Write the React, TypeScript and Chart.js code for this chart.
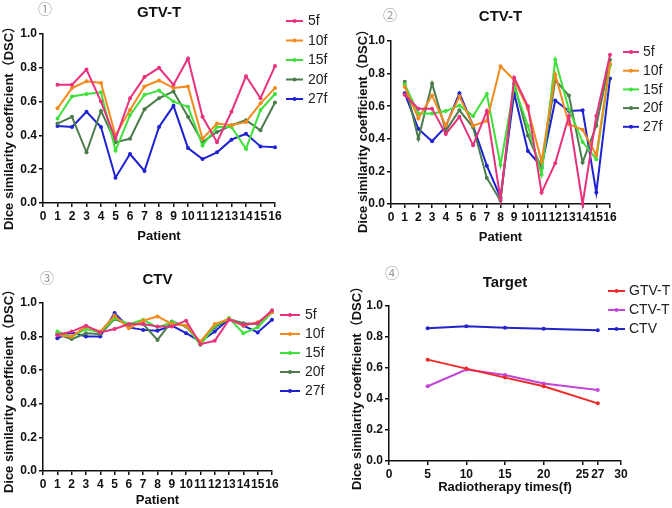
import React, { useEffect, useRef } from "react";
import { Chart, registerables } from "chart.js";

Chart.register(...registerables);
Chart.defaults.font.family = "'Liberation Sans', Arial, sans-serif";

// ---------- data ----------
const patients = [1, 2, 3, 4, 5, 6, 7, 8, 9, 10, 11, 12, 13, 14, 15, 16];
const fractionLabels = ["5f", "10f", "15f", "20f", "27f"];

const gtv5f = [0.70, 0.70, 0.79, 0.60, 0.38, 0.62, 0.745, 0.80, 0.70, 0.855, 0.51, 0.36, 0.54, 0.75, 0.62, 0.81];
const gtv10f = [0.56, 0.68, 0.72, 0.71, 0.40, 0.55, 0.69, 0.725, 0.68, 0.69, 0.38, 0.47, 0.46, 0.48, 0.59, 0.68];
const gtv15f = [0.50, 0.63, 0.645, 0.655, 0.31, 0.52, 0.64, 0.665, 0.60, 0.57, 0.34, 0.45, 0.45, 0.32, 0.55, 0.645];
const gtv20f = [0.47, 0.51, 0.30, 0.545, 0.36, 0.38, 0.555, 0.62, 0.66, 0.51, 0.36, 0.42, 0.46, 0.49, 0.43, 0.595];
const gtv27f = [0.455, 0.45, 0.54, 0.45, 0.15, 0.29, 0.19, 0.45, 0.575, 0.325, 0.26, 0.30, 0.375, 0.41, 0.335, 0.33];

const ctvt5f = [0.67, 0.585, 0.585, 0.43, 0.535, 0.36, 0.57, 0.03, 0.775, 0.60, 0.07, 0.25, 0.54, 0.0, 0.54, 0.915];
const ctvt10f = [0.72, 0.525, 0.665, 0.48, 0.66, 0.48, 0.51, 0.845, 0.76, 0.585, 0.26, 0.795, 0.49, 0.455, 0.30, 0.86];
const ctvt15f = [0.735, 0.555, 0.555, 0.57, 0.605, 0.54, 0.675, 0.24, 0.72, 0.48, 0.18, 0.885, 0.58, 0.38, 0.275, 0.85];
const ctvt20f = [0.75, 0.40, 0.74, 0.45, 0.575, 0.47, 0.16, 0.02, 0.74, 0.42, 0.22, 0.76, 0.665, 0.255, 0.48, 0.885];
const ctvt27f = [0.68, 0.46, 0.385, 0.475, 0.68, 0.48, 0.235, 0.04, 0.68, 0.325, 0.23, 0.635, 0.57, 0.575, 0.07, 0.77];

const ctv5f = [0.81, 0.83, 0.865, 0.825, 0.845, 0.875, 0.875, 0.86, 0.86, 0.895, 0.755, 0.775, 0.90, 0.87, 0.88, 0.955];
const ctv10f = [0.81, 0.80, 0.86, 0.83, 0.925, 0.85, 0.895, 0.92, 0.875, 0.865, 0.77, 0.875, 0.905, 0.865, 0.885, 0.945];
const ctv15f = [0.83, 0.80, 0.845, 0.825, 0.91, 0.875, 0.90, 0.855, 0.885, 0.865, 0.75, 0.865, 0.91, 0.82, 0.855, 0.945];
const ctv20f = [0.815, 0.785, 0.82, 0.815, 0.905, 0.87, 0.875, 0.78, 0.89, 0.86, 0.765, 0.855, 0.905, 0.88, 0.875, 0.955];
const ctv27f = [0.79, 0.825, 0.80, 0.80, 0.94, 0.855, 0.84, 0.835, 0.865, 0.82, 0.77, 0.83, 0.905, 0.865, 0.825, 0.90];

const fractions = [5, 10, 15, 20, 27];
const targetLabels = ["GTV-T", "CTV-T", "CTV"];
const gtvMean = [0.654, 0.596, 0.538, 0.482, 0.372];
const ctvtMean = [0.482, 0.59, 0.555, 0.50, 0.458];
const ctvMean = [0.856, 0.869, 0.86, 0.854, 0.843];
const targetXTicks = [0, 5, 10, 15, 20, 25, 27, 30];

// ---------- styles ----------
const fracColors = ["#e8327e", "#f28a1e", "#3ee03a", "#4c7c4c", "#1e22d2"];
const targetColors = ["#ee2a2a", "#c246d6", "#2424c8"];
const Y_TITLE = "Dice similarity coefficient\uFF08DSC\uFF09";

type Series = { label: string; color: string; data: number[] };
type Panel = {
  left: number; top: number; w: number; h: number;
  area: { l: number; r: number; t: number; b: number };
  title: string; titleY: number;
  num: string; numX: number; numY: number;
  yTitleX: number; yTitleY: number;
  xTitle: string; xTitleY: number;
  legX1: number; legX2: number; legTX: number; legY0: number; legDY: number;
  xMax: number; xTicks?: number[];
  xs: number[];
  series: Series[];
};

const mk = (labels: string[], colors: string[], arrs: number[][]): Series[] =>
  labels.map((l, i) => ({ label: l, color: colors[i], data: arrs[i] }));

const panels: Panel[] = [
  {
    left: 0, top: 0, w: 336, h: 254,
    area: { l: 43, r: 275, t: 34, b: 203 },
    title: "GTV-T", titleY: 13, num: "\u2460", numX: 45, numY: 9,
    yTitleX: 9, yTitleY: 125, xTitle: "Patient", xTitleY: 236,
    legX1: 286, legX2: 303, legTX: 308, legY0: 21, legDY: 19.5,
    xMax: 16, xs: patients,
    series: mk(fractionLabels, fracColors, [gtv5f, gtv10f, gtv15f, gtv20f, gtv27f]),
  },
  {
    left: 336, top: 0, w: 336, h: 254,
    area: { l: 55, r: 274, t: 41, b: 204 },
    title: "CTV-T", titleY: 17, num: "\u2461", numX: 54, numY: 15,
    yTitleX: 27, yTitleY: 128, xTitle: "Patient", xTitleY: 237,
    legX1: 287, legX2: 303, legTX: 307, legY0: 52, legDY: 18.7,
    xMax: 16, xs: patients,
    series: mk(fractionLabels, fracColors, [ctvt5f, ctvt10f, ctvt15f, ctvt20f, ctvt27f]),
  },
  {
    left: 0, top: 254, w: 336, h: 254,
    area: { l: 43, r: 272, t: 49, b: 217 },
    title: "CTV", titleY: 26, num: "\u2462", numX: 47, numY: 24,
    yTitleX: 9, yTitleY: 134, xTitle: "Patient", xTitleY: 246,
    legX1: 280, legX2: 300, legTX: 305, legY0: 61, legDY: 19,
    xMax: 16, xs: patients,
    series: mk(fractionLabels, fracColors, [ctv5f, ctv10f, ctv15f, ctv20f, ctv27f]),
  },
  {
    left: 336, top: 254, w: 336, h: 254,
    area: { l: 53, r: 285, t: 52, b: 207 },
    title: "Target", titleY: 29, num: "\u2463", numX: 56, numY: 19,
    yTitleX: 21, yTitleY: 131, xTitle: "Radiotherapy times(f)", xTitleY: 233,
    legX1: 272, legX2: 289, legTX: 293, legY0: 37, legDY: 19,
    xMax: 30, xTicks: targetXTicks, xs: fractions,
    series: mk(targetLabels, targetColors, [gtvMean, ctvtMean, ctvMean]),
  },
];

function decorPlugin(p: Panel) {
  return {
    id: "decor",
    afterDraw(chart: any) {
      const ctx: CanvasRenderingContext2D = chart.ctx;
      const ca = chart.chartArea;
      ctx.save();
      ctx.fillStyle = "#111";
      ctx.textBaseline = "middle";
      // title
      ctx.font = "bold 15px 'Liberation Sans', Arial, sans-serif";
      ctx.textAlign = "center";
      ctx.fillText(p.title, (ca.left + ca.right) / 2, p.titleY);
      // x title
      ctx.font = "bold 13px 'Liberation Sans', Arial, sans-serif";
      ctx.fillText(p.xTitle, (ca.left + ca.right) / 2, p.xTitleY);
      // y title
      ctx.save();
      ctx.translate(p.yTitleX, p.yTitleY);
      ctx.rotate(-Math.PI / 2);
      ctx.font = "bold 13px 'Liberation Sans', 'Noto Sans CJK SC', Arial, sans-serif";
      ctx.fillText(Y_TITLE, 0, 0);
      ctx.restore();
      // circled number
      ctx.fillStyle = "#999";
      ctx.font = "14px 'Noto Sans CJK SC', 'DejaVu Sans', sans-serif";
      ctx.fillText(p.num, p.numX, p.numY);
      // legend
      ctx.textAlign = "left";
      ctx.font = "14px 'Liberation Sans', Arial, sans-serif";
      chart.data.datasets.forEach((ds: any, i: number) => {
        const y = p.legY0 + i * p.legDY;
        ctx.strokeStyle = ds.borderColor;
        ctx.lineWidth = 2;
        ctx.beginPath();
        ctx.moveTo(p.legX1, y);
        ctx.lineTo(p.legX2, y);
        ctx.stroke();
        ctx.fillStyle = ds.borderColor;
        ctx.beginPath();
        ctx.arc((p.legX1 + p.legX2) / 2, y, 2, 0, Math.PI * 2);
        ctx.fill();
        ctx.fillStyle = "#222";
        ctx.fillText(ds.label, p.legTX, y + 0.5);
      });
      ctx.restore();
    },
  };
}

function PanelChart({ p }: { p: Panel }) {
  const ref = useRef<HTMLCanvasElement | null>(null);
  useEffect(() => {
    if (!ref.current) return;
    const axisGrid = {
      display: true, drawOnChartArea: false, drawTicks: true,
      tickLength: 4, color: "#111", lineWidth: 1.5,
    };
    const axisBorder = { color: "#111", width: 1.5 };
    const tickFont = { size: 12, weight: "bold" as const };
    const chart = new Chart(ref.current, {
      type: "line",
      data: {
        datasets: p.series.map((s) => ({
          label: s.label,
          data: p.xs.map((x, i) => ({ x, y: s.data[i] })),
          borderColor: s.color,
          backgroundColor: s.color,
          borderWidth: 2,
          pointRadius: 2,
          pointHoverRadius: 2,
          pointBorderWidth: 0,
          tension: 0,
          clip: false as any,
        })),
      },
      options: {
        animation: false,
        responsive: false,
        events: [],
        layout: { padding: { left: 0, top: p.area.t, right: p.w - p.area.r, bottom: 0 } },
        plugins: { legend: { display: false }, tooltip: { enabled: false } },
        scales: {
          x: {
            type: "linear",
            min: 0,
            max: p.xMax,
            afterFit: (s: any) => { s.height = p.h - p.area.b; },
            afterBuildTicks: p.xTicks
              ? (s: any) => { s.ticks = p.xTicks!.map((v) => ({ value: v })); }
              : undefined,
            ticks: {
              stepSize: p.xTicks ? 5 : 1, autoSkip: false, maxRotation: 0,
              padding: 2, color: "#111", font: tickFont,
            },
            grid: axisGrid,
            border: axisBorder,
          },
          y: {
            min: 0,
            max: 1,
            afterFit: (s: any) => { s.width = p.area.l; },
            ticks: {
              stepSize: 0.2, padding: 2, color: "#111", font: tickFont,
              callback: (v: any) => Number(v).toFixed(1),
            },
            grid: axisGrid,
            border: axisBorder,
          },
        },
      } as any,
      plugins: [decorPlugin(p)],
    });
    return () => chart.destroy();
  }, [p]);
  return (
    <div style={{ position: "absolute", left: p.left, top: p.top, width: p.w, height: p.h }}>
      <canvas ref={ref} width={p.w} height={p.h} style={{ width: p.w, height: p.h, display: "block" }} />
    </div>
  );
}

export default function App() {
  return (
    <div style={{ position: "fixed", left: 0, top: 0, width: 672, height: 508, background: "#fff", overflow: "hidden" }}>
      {panels.map((p, i) => (
        <PanelChart key={i} p={p} />
      ))}
    </div>
  );
}
